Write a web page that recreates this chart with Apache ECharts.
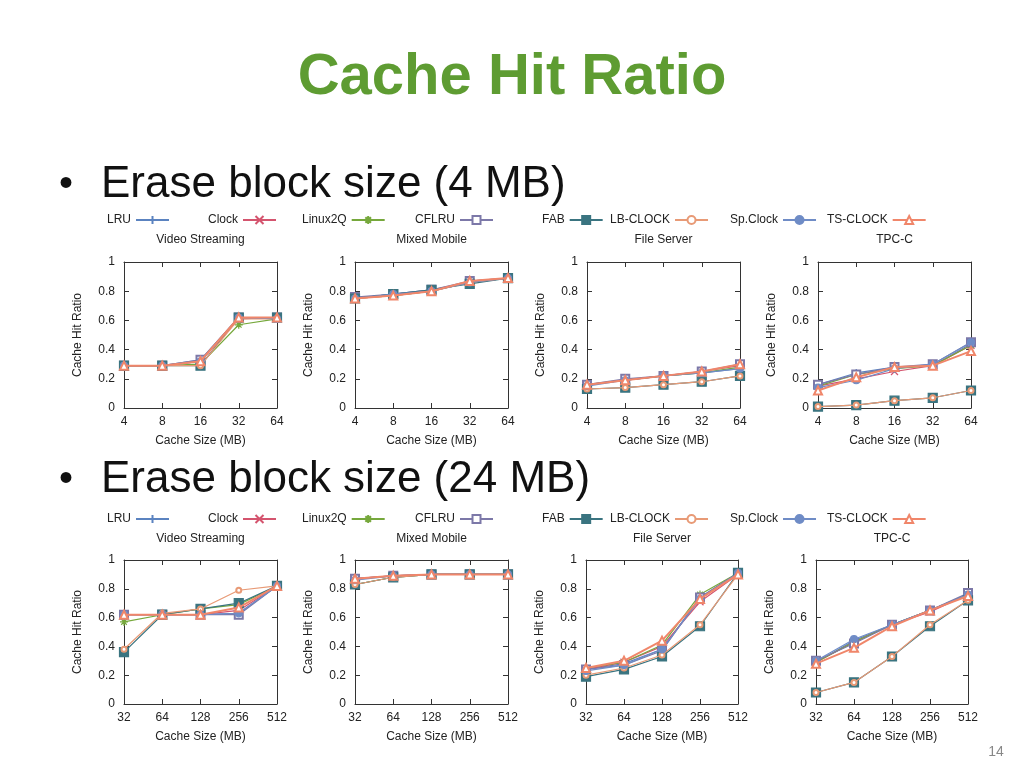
<!DOCTYPE html>
<html><head><meta charset="utf-8">
<script src="https://cdn.jsdelivr.net/npm/echarts@6/dist/echarts.min.js"></script>
<style>html,body{margin:0;padding:0;background:#fff}#c{width:1024px;height:768px}</style>
</head><body><div id="c"></div>
<script>
// ---------- data ----------
const seriesNames = ['LRU','Clock','Linux2Q','CFLRU','FAB','LB-CLOCK','Sp.Clock','TS-CLOCK'];
const smallCaches = ['4','8','16','32','64'];
const largeCaches = ['32','64','128','256','512'];
const workloads = ['Video Streaming','Mixed Mobile','File Server','TPC-C'];
const yTickValues = [0, 0.2, 0.4, 0.6, 0.8, 1];

// Erase block size 4 MB (rows in seriesNames order)
const video4 = [
  [0.29,0.29,0.33,0.62,0.62],
  [0.29,0.29,0.32,0.61,0.62],
  [0.29,0.29,0.30,0.57,0.61],
  [0.29,0.29,0.33,0.62,0.62],
  [0.29,0.29,0.29,0.62,0.62],
  [0.29,0.29,0.29,0.61,0.61],
  [0.29,0.29,0.32,0.62,0.61],
  [0.29,0.29,0.32,0.62,0.62]
];
const mobile4 = [
  [0.75,0.78,0.81,0.86,0.89],
  [0.75,0.77,0.80,0.87,0.89],
  [0.75,0.77,0.80,0.86,0.89],
  [0.76,0.78,0.81,0.87,0.89],
  [0.75,0.78,0.81,0.85,0.89],
  [0.75,0.77,0.80,0.86,0.89],
  [0.75,0.78,0.80,0.86,0.89],
  [0.75,0.77,0.80,0.87,0.89]
];
const file4 = [
  [0.16,0.19,0.22,0.24,0.27],
  [0.16,0.19,0.22,0.25,0.29],
  [0.16,0.19,0.22,0.24,0.28],
  [0.16,0.20,0.22,0.25,0.30],
  [0.13,0.14,0.16,0.18,0.22],
  [0.13,0.14,0.16,0.18,0.22],
  [0.15,0.19,0.22,0.24,0.27],
  [0.16,0.19,0.22,0.25,0.30]
];
const tpcc4 = [
  [0.16,0.24,0.28,0.29,0.44],
  [0.15,0.20,0.25,0.29,0.43],
  [0.15,0.23,0.27,0.29,0.43],
  [0.16,0.23,0.28,0.30,0.45],
  [0.01,0.02,0.05,0.07,0.12],
  [0.01,0.02,0.05,0.07,0.12],
  [0.14,0.19,0.27,0.30,0.45],
  [0.12,0.21,0.28,0.29,0.39]
];
// Erase block size 24 MB
const video24 = [
  [0.62,0.62,0.62,0.63,0.82],
  [0.62,0.62,0.62,0.65,0.82],
  [0.57,0.62,0.66,0.69,0.82],
  [0.62,0.62,0.62,0.62,0.82],
  [0.36,0.62,0.66,0.70,0.82],
  [0.38,0.63,0.66,0.79,0.82],
  [0.62,0.62,0.62,0.63,0.82],
  [0.62,0.62,0.62,0.67,0.82]
];
const mobile24 = [
  [0.87,0.89,0.90,0.90,0.90],
  [0.87,0.89,0.90,0.90,0.90],
  [0.83,0.88,0.90,0.90,0.90],
  [0.87,0.89,0.90,0.90,0.90],
  [0.83,0.88,0.90,0.90,0.90],
  [0.83,0.88,0.90,0.90,0.90],
  [0.86,0.89,0.90,0.90,0.90],
  [0.87,0.89,0.90,0.90,0.90]
];
const file24 = [
  [0.24,0.28,0.38,0.74,0.91],
  [0.24,0.29,0.40,0.71,0.90],
  [0.25,0.29,0.41,0.76,0.91],
  [0.24,0.27,0.37,0.74,0.91],
  [0.19,0.24,0.33,0.54,0.91],
  [0.20,0.25,0.34,0.55,0.90],
  [0.23,0.27,0.38,0.73,0.91],
  [0.25,0.30,0.44,0.73,0.90]
];
const tpcc24 = [
  [0.29,0.44,0.55,0.65,0.76],
  [0.29,0.43,0.55,0.64,0.76],
  [0.29,0.43,0.55,0.65,0.76],
  [0.30,0.42,0.55,0.65,0.77],
  [0.08,0.15,0.33,0.54,0.72],
  [0.08,0.15,0.33,0.55,0.72],
  [0.30,0.45,0.55,0.65,0.76],
  [0.28,0.39,0.54,0.65,0.75]
];

// ---------- layout / style ----------
const panels = [
  {data: video4,  cats: smallCaches, left:124, top:262, width:153, height:146, title: workloads[0]},
  {data: mobile4, cats: smallCaches, left:355, top:262, width:153, height:146, title: workloads[1]},
  {data: file4,   cats: smallCaches, left:587, top:262, width:153, height:146, title: workloads[2]},
  {data: tpcc4,   cats: smallCaches, left:818, top:262, width:153, height:146, title: workloads[3]},
  {data: video24, cats: largeCaches, left:124, top:560, width:153, height:144, title: workloads[0]},
  {data: mobile24,cats: largeCaches, left:355, top:560, width:153, height:144, title: workloads[1]},
  {data: file24,  cats: largeCaches, left:586, top:560, width:152, height:144, title: workloads[2]},
  {data: tpcc24,  cats: largeCaches, left:816, top:560, width:152, height:144, title: workloads[3]}
];
const styles = [
  {color:'#5b83c0', symbol:'path://M5,0L5,10M0,5L10,5', size:8},
  {color:'#d4546e', symbol:'path://M0,0L10,10M10,0L0,10', size:7},
  {color:'#76a83c', symbol:'path://M5,0L5,10M0,5L10,5M1.5,1.5L8.5,8.5M8.5,1.5L1.5,8.5', size:8},
  {color:'#7c78a8', symbol:'emptyRect', size:8},
  {color:'#3a7480', symbol:'rect', size:9},
  {color:'#e89a76', symbol:'emptyCircle', size:5},
  {color:'#6f8cc6', symbol:'circle', size:7},
  {color:'#f0866a', symbol:'emptyTriangle', size:8}
];
const legendX = [107, 208, 302, 415, 542, 610, 730, 827];
const legendY = [214, 513];
const FONT = 'Liberation Sans';

const grid = [], xAxis = [], yAxis = [], series = [], legend = [], graphic = [];
const axisLineStyle = {color:'#333', width:1};
panels.forEach((p, i) => {
  grid.push({left:p.left, top:p.top, width:p.width, height:p.height, containLabel:false});
  xAxis.push({type:'category', gridIndex:i, data:p.cats, boundaryGap:false,
    axisLine:{show:true, onZero:false, lineStyle:axisLineStyle},
    axisTick:{show:true, inside:true, length:5, interval:0, lineStyle:axisLineStyle},
    axisLabel:{interval:0, color:'#222', fontSize:12, fontFamily:FONT, margin:8},
    splitLine:{show:false},
    name:'Cache Size (MB)', nameLocation:'middle', nameGap:27,
    nameTextStyle:{color:'#222', fontSize:12, fontFamily:FONT}});
  xAxis.push({type:'category', gridIndex:i, data:p.cats, boundaryGap:false, position:'top',
    axisLine:{show:true, onZero:false, lineStyle:axisLineStyle},
    axisTick:{show:true, inside:true, length:5, interval:0, lineStyle:axisLineStyle},
    axisLabel:{show:false}, splitLine:{show:false}});
  yAxis.push({type:'value', gridIndex:i, min:yTickValues[0], max:yTickValues[yTickValues.length-1], interval:0.2,
    axisLine:{show:true, onZero:false, lineStyle:axisLineStyle},
    axisTick:{show:true, inside:true, length:5, lineStyle:axisLineStyle},
    axisLabel:{color:'#222', fontSize:12, fontFamily:FONT, margin:9},
    splitLine:{show:false},
    name:'Cache Hit Ratio', nameLocation:'middle', nameGap:40,
    nameTextStyle:{color:'#222', fontSize:12, fontFamily:FONT}});
  yAxis.push({type:'value', gridIndex:i, min:0, max:1, interval:0.2, position:'right',
    axisLine:{show:true, onZero:false, lineStyle:axisLineStyle},
    axisTick:{show:true, inside:true, length:5, lineStyle:axisLineStyle},
    axisLabel:{show:false}, splitLine:{show:false}});
  p.data.forEach((vals, s) => {
    const st = styles[s];
    series.push({type:'line', name:seriesNames[s], xAxisIndex:2*i, yAxisIndex:2*i,
      data:vals, symbol:st.symbol, symbolSize:st.size, showSymbol:true,
      lineStyle:{color:st.color, width: s===7 ? 2 : 1.2},
      itemStyle:{color:st.color, borderColor:st.color, borderWidth:1.2},
      emphasis:{disabled:true}, z: 2 + s});
  });
  graphic.push({type:'text', x:p.left + p.width/2, y: (i<4 ? 240 : 539),
    style:{text:p.title, fill:'#222', font:'12px "' + FONT + '"', textAlign:'center', textVerticalAlign:'middle'}});
});
legendY.forEach(y => {
  seriesNames.forEach((n, s) => {
    legend.push({data:[n], left:legendX[s], top:y, padding:0, align:'right', selectedMode:false,
      itemWidth:33, itemHeight:10, itemGap:0,
      textStyle:{color:'#222', fontSize:12, fontFamily:FONT}});
  });
});
// slide texts
graphic.push({type:'text', x:512, y:78, style:{text:'Cache Hit Ratio', fill:'#5e9c32',
  font:'bold 58px "' + FONT + '"', textAlign:'center', textVerticalAlign:'middle',
  shadowColor:'rgba(0,0,0,0.35)', shadowBlur:3, shadowOffsetX:2, shadowOffsetY:2}});
[[185, 'Erase block size (4 MB)'], [480, 'Erase block size (24 MB)']].forEach(([y, t]) => {
  graphic.push({type:'text', x:66, y:y, style:{text:'•', fill:'#111', font:'40px "' + FONT + '"', textAlign:'center', textVerticalAlign:'middle'}});
  graphic.push({type:'text', x:101, y:y, style:{text:t, fill:'#111', font:'44px "' + FONT + '"', textAlign:'left', textVerticalAlign:'middle'}});
});
graphic.push({type:'text', x:996, y:752, style:{text:'14', fill:'#888', font:'14px "' + FONT + '"', textAlign:'center', textVerticalAlign:'middle'}});

const chart = echarts.init(document.getElementById('c'), null, {renderer:'canvas'});
chart.setOption({backgroundColor:'#fff', animation:false, grid, xAxis, yAxis, series, legend, graphic});
</script></body></html>
